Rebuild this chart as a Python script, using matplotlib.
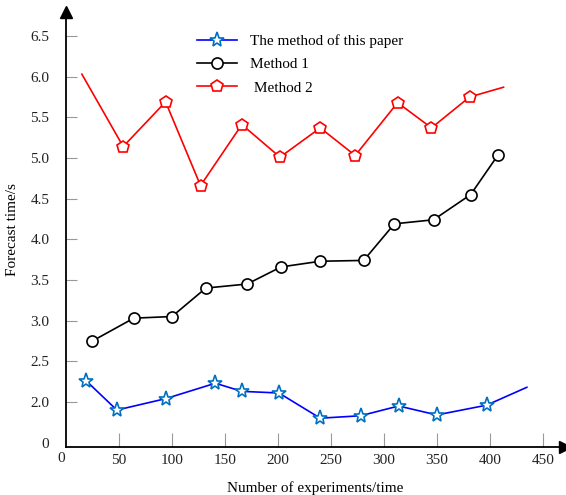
import matplotlib
matplotlib.use("Agg")
import matplotlib.pyplot as plt

plt.rcParams['font.family'] = ['Liberation Serif', 'DejaVu Serif']

# data (y below 2.0 sits on a broken axis, "0" drawn at 1.5)
x_ours = [19, 48, 94, 141, 166, 201, 240, 278, 314, 350, 397, 435]
y_ours = [2.26, 1.90, 2.04, 2.23, 2.13, 2.11, 1.80, 1.83, 1.95, 1.84, 1.96, 2.18]

x_m1 = [25, 64, 100, 132, 171, 203, 240, 281, 310, 347, 382, 408]
y_m1 = [2.75, 3.03, 3.05, 3.40, 3.45, 3.66, 3.73, 3.74, 4.19, 4.24, 4.55, 5.04]

x_m2 = [15, 54, 94, 127, 166, 202, 240, 273, 313, 345, 381, 413]
y_m2 = [6.03, 5.14, 5.69, 4.66, 5.41, 5.01, 5.37, 5.03, 5.68, 5.37, 5.75, 5.87]

xticks = [50, 100, 150, 200, 250, 300, 350, 400, 450]
yticks = [1.5, 2.0, 2.5, 3.0, 3.5, 4.0, 4.5, 5.0, 5.5, 6.0, 6.5]
ytick_labels = ['0', '2.0', '2.5', '3.0', '3.5', '4.0', '4.5', '5.0', '5.5', '6.0', '6.5']

fig = plt.figure(figsize=(5.66, 4.95), dpi=100)
ax = fig.add_axes([0.1166, 0.097, 0.8816, 0.8788])

ax.plot(x_ours, y_ours, color='#0000ff', lw=1.2, marker='*', ms=11, mfc='white',
        mec='#0070c0', mew=1.2, markevery=list(range(len(x_ours) - 1)),
        label='The method of this paper')
ax.plot(x_m1, y_m1, color='black', lw=1.2, marker='o', ms=8, mfc='white',
        mec='black', mew=1.2, label='Method 1')
ax.plot(x_m2, y_m2, color='#ff0000', lw=1.2, marker='p', ms=9, mfc='white',
        mec='#ff0000', mew=1.2, markevery=list(range(1, len(x_m2) - 1)),
        label=' Method 2')

ax.set_xlim(0, 471)
ax.set_ylim(1.446, 6.795)
ax.set_xticks(xticks)
ax.set_yticks(yticks)
ax.set_yticklabels(ytick_labels)
ax.tick_params(axis='both', direction='in', color='#999999',
               labelsize=11, labelcolor='#222222')
ax.tick_params(axis='x', length=10, pad=5)
ax.tick_params(axis='y', length=8, pad=12)
ax.yaxis.get_major_ticks()[0].tick1line.set_visible(False)
ax.text(-5, -0.012, '0', transform=ax.get_xaxis_transform(), ha='center',
        va='top', fontsize=11, color='#222222')

for s in ['top', 'right']:
    ax.spines[s].set_visible(False)
for s in ['left', 'bottom']:
    ax.spines[s].set_linewidth(1.3)
ax.plot(1, 0, '>', color='black', ms=9, transform=ax.transAxes, clip_on=False)
ax.plot(0, 1, '^', color='black', ms=9, transform=ax.transAxes, clip_on=False)

ax.set_xlabel('Number of experiments/time', fontsize=11, labelpad=10)
ax.set_ylabel('Forecast time/s', fontsize=11, labelpad=8)

ax.legend(loc='upper left', bbox_to_anchor=(0.235, 0.98), frameon=False,
          fontsize=11, handlelength=2.6, handletextpad=0.9, labelspacing=0.62)

fig.savefig('out.png', dpi=100)
